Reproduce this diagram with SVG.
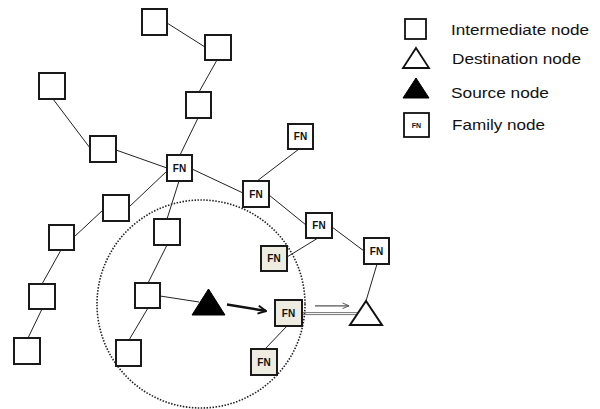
<svg xmlns="http://www.w3.org/2000/svg" width="600" height="409" viewBox="0 0 600 409">
  <style>
    .box { fill: #ffffff; stroke: #1a1a1a; stroke-width: 2; }
    .fam { fill: #ffffff; stroke: #1a1a1a; stroke-width: 2; }
    .shaded { fill: #eeebe0; stroke: #1a1a1a; stroke-width: 2; }
    .fn { font-family: "Liberation Sans", Arial, sans-serif; font-weight: bold; font-size: 10px; fill: #111; text-anchor: middle; }
    .link { stroke: #222; stroke-width: 1; fill: none; }
    .legend { font-family: "Liberation Sans", Arial, sans-serif; font-size: 15px; fill: #111; }
  </style>
  <defs>
    <marker id="chev" viewBox="0 0 10 10" refX="9" refY="5" markerWidth="10" markerHeight="10" markerUnits="userSpaceOnUse" orient="auto">
      <path d="M1,1 L9,5 L1,9" fill="none" stroke="#111" stroke-width="2"/>
    </marker>
    <marker id="chevThin" viewBox="0 0 10 10" refX="9" refY="5" markerWidth="8" markerHeight="8" markerUnits="userSpaceOnUse" orient="auto">
      <path d="M1,1.5 L9,5 L1,8.5" fill="none" stroke="#555" stroke-width="1.2"/>
    </marker>
  </defs>

  <!-- neighbourhood of the source -->
  <circle cx="201" cy="304" r="104" fill="none" stroke="#222" stroke-width="1.6" stroke-dasharray="1.5 1.5"/>

  <g id="connectors">
    <line class="link" x1="167" y1="23" x2="205" y2="47"/>
    <line class="link" x1="217" y1="60" x2="199" y2="92"/>
    <line class="link" x1="198" y1="118" x2="180" y2="155"/>
    <line class="link" x1="53" y1="99" x2="90" y2="148"/>
    <line class="link" x1="116" y1="150" x2="167" y2="168"/>
    <line class="link" x1="192" y1="169" x2="243" y2="193"/>
    <line class="link" x1="257" y1="181" x2="299" y2="149"/>
    <line class="link" x1="269" y1="195" x2="306" y2="225"/>
    <line class="link" x1="332" y1="227" x2="364" y2="251"/>
    <line class="link" x1="318" y1="238" x2="287" y2="257"/>
    <line class="link" x1="167" y1="171" x2="129" y2="207"/>
    <line class="link" x1="179" y1="181" x2="167" y2="219"/>
    <line class="link" x1="103" y1="210" x2="74" y2="237"/>
    <line class="link" x1="61" y1="250" x2="42" y2="284"/>
    <line class="link" x1="42" y1="309" x2="28" y2="338"/>
    <line class="link" x1="167" y1="245" x2="148" y2="283"/>
    <line class="link" x1="148" y1="308" x2="129" y2="340"/>
    <line class="link" x1="160" y1="296" x2="199" y2="302"/>
    <line class="link" x1="287" y1="326" x2="265" y2="349"/>
    <line class="link" x1="377" y1="264" x2="366" y2="301"/>
    <!-- route from the family node to the destination -->
    <line x1="302" y1="312.6" x2="359" y2="312.6" stroke="#777" stroke-width="1"/>
    <line x1="302" y1="314.6" x2="358" y2="314.6" stroke="#777" stroke-width="1"/>
    <!-- forwarding arrows -->
    <line x1="227" y1="304.5" x2="266" y2="311" stroke="#111" stroke-width="2.5" marker-end="url(#chev)"/>
    <line x1="315" y1="305.8" x2="349" y2="305.8" stroke="#555" stroke-width="1.2" marker-end="url(#chevThin)"/>
  </g>

  <!-- intermediate nodes -->
  <g id="n1"><rect class="box" x="142" y="9" width="25" height="26"/></g>
  <g id="n2"><rect class="box" x="205" y="35" width="26" height="25"/></g>
  <g id="n3"><rect class="box" x="186" y="92" width="25" height="26"/></g>
  <g id="n4"><rect class="box" x="39" y="73" width="26" height="26"/></g>
  <g id="n5"><rect class="box" x="90" y="136" width="26" height="26"/></g>
  <g id="n6"><rect class="box" x="154" y="219" width="26" height="26"/></g>
  <g id="n7"><rect class="box" x="103" y="195" width="26" height="26"/></g>
  <g id="n8"><rect class="box" x="49" y="225" width="25" height="25"/></g>
  <g id="n9"><rect class="box" x="29" y="284" width="26" height="25"/></g>
  <g id="n10"><rect class="box" x="14" y="338" width="26" height="26"/></g>
  <g id="n11"><rect class="box" x="135" y="283" width="25" height="25"/></g>
  <g id="n12"><rect class="box" x="116" y="340" width="25" height="26"/></g>

  <!-- family nodes -->
  <g id="fn1"><rect class="fam" x="167" y="155" width="25" height="26"/><text class="fn" x="179.5" y="171.5">FN</text></g>
  <g id="fn2"><rect class="fam" x="288" y="124" width="25" height="25"/><text class="fn" x="300.5" y="140">FN</text></g>
  <g id="fn3"><rect class="fam" x="243" y="181" width="26" height="26"/><text class="fn" x="256" y="197.5">FN</text></g>
  <g id="fn4"><rect class="fam" x="306" y="213" width="26" height="25"/><text class="fn" x="319" y="229">FN</text></g>
  <g id="fn5"><rect class="fam" x="364" y="238" width="25" height="26"/><text class="fn" x="376.5" y="254.5">FN</text></g>
  <g id="fn6"><rect class="shaded" x="261" y="246" width="26" height="25"/><text class="fn" x="274" y="262">FN</text></g>
  <g id="fn7"><rect class="shaded" x="275" y="300" width="27" height="26"/><text class="fn" x="288.5" y="316.5">FN</text></g>
  <g id="fn8"><rect class="shaded" x="251" y="349" width="26" height="26"/><text class="fn" x="264" y="365.5">FN</text></g>

  <!-- source node -->
  <g id="source"><polygon points="208.5,289 225,315 192,315" fill="#000" stroke="#000" stroke-width="1"/></g>

  <!-- destination node -->
  <g id="destination"><polygon points="366,301 382,325 350,325" fill="#fff" stroke="#111" stroke-width="2"/></g>

  <!-- legend -->
  <g id="legend">
    <rect x="405" y="19" width="21" height="20" fill="#fff" stroke="#111" stroke-width="1.8"/>
    <text class="legend" x="451" y="35" textLength="138" lengthAdjust="spacingAndGlyphs">Intermediate node</text>
    <polygon points="416,48 429,68 403,68" fill="#fff" stroke="#111" stroke-width="1.8"/>
    <text class="legend" x="452" y="64" textLength="129" lengthAdjust="spacingAndGlyphs">Destination node</text>
    <polygon points="416,78 429,98 403,98" fill="#000" stroke="#000" stroke-width="1"/>
    <text class="legend" x="451" y="98" textLength="98" lengthAdjust="spacingAndGlyphs">Source node</text>
    <rect x="404" y="113" width="25" height="24" fill="#fff" stroke="#111" stroke-width="1.8"/>
    <text class="fn" x="416.5" y="128" style="font-size:7px">FN</text>
    <text class="legend" x="452" y="130" textLength="93" lengthAdjust="spacingAndGlyphs">Family node</text>
  </g>
</svg>
